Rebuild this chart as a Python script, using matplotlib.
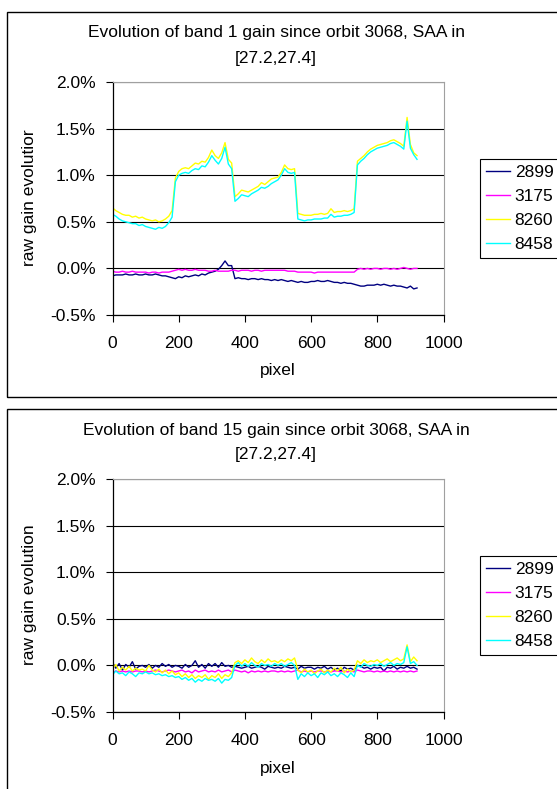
import matplotlib

matplotlib.use("Agg")
import matplotlib.pyplot as plt
import numpy as np
from matplotlib.patches import Rectangle
from matplotlib.ticker import MultipleLocator, PercentFormatter

plt.rcParams["font.family"] = ["Liberation Sans", "DejaVu Sans"]
plt.rcParams["axes.unicode_minus"] = False

W, H = 557, 789

# detector pixel, sampled every 10 pixels
pixels = np.arange(0, 930, 10)
orbits = ["2899", "3175", "8260", "8458"]
colors = ["#000080", "#ff00ff", "#ffff00", "#00ffff"]

# band 1, raw gain evolution [%]
band1_2899 = [
    -0.08, -0.07, -0.07, -0.07, -0.06, -0.07, -0.07, -0.06, -0.07, -0.07,
    -0.06, -0.07, -0.07, -0.06, -0.07, -0.08, -0.08, -0.09, -0.10, -0.11,
    -0.09, -0.10, -0.08, -0.09, -0.08, -0.07, -0.08, -0.06, -0.07, -0.05,
    -0.04, -0.03, -0.01, 0.03, 0.08, 0.03, 0.03, -0.11, -0.10, -0.11,
    -0.11, -0.12, -0.11, -0.11, -0.12, -0.11, -0.12, -0.12, -0.13, -0.12,
    -0.13, -0.12, -0.13, -0.14, -0.13, -0.14, -0.15, -0.14, -0.15, -0.15,
    -0.14, -0.14, -0.13, -0.14, -0.14, -0.13, -0.14, -0.15, -0.15, -0.16,
    -0.15, -0.16, -0.16, -0.17, -0.18, -0.19, -0.19, -0.18, -0.18, -0.18,
    -0.17, -0.18, -0.17, -0.18, -0.19, -0.18, -0.19, -0.19, -0.20, -0.21,
    -0.19, -0.22, -0.21,
]
band1_3175 = [
    -0.03, -0.04, -0.04, -0.03, -0.04, -0.04, -0.03, -0.04, -0.04, -0.04,
    -0.04, -0.05, -0.04, -0.04, -0.05, -0.04, -0.04, -0.04, -0.03, -0.02,
    -0.01, -0.02, -0.01, -0.02, -0.02, -0.01, -0.02, -0.02, -0.02, -0.03,
    -0.03, -0.02, -0.03, -0.03, -0.03, -0.03, -0.02, -0.02, -0.03, -0.02,
    -0.02, -0.02, -0.03, -0.02, -0.02, -0.03, -0.02, -0.02, -0.02, -0.02,
    -0.02, -0.02, -0.02, -0.03, -0.03, -0.03, -0.04, -0.04, -0.04, -0.04,
    -0.04, -0.05, -0.04, -0.04, -0.04, -0.04, -0.04, -0.04, -0.04, -0.04,
    -0.04, -0.04, -0.04, -0.04, -0.01, 0.00, -0.01, 0.00, -0.01, 0.00,
    0.00, -0.01, 0.00, 0.00, -0.01, 0.00, -0.01, 0.00, 0.01, 0.00,
    -0.01, 0.00, 0.00,
]
band1_8260 = [
    0.65, 0.62, 0.60, 0.58, 0.57, 0.57, 0.55, 0.56, 0.54, 0.55,
    0.53, 0.52, 0.51, 0.52, 0.50, 0.51, 0.53, 0.56, 0.62, 0.97,
    1.04, 1.07, 1.08, 1.07, 1.10, 1.13, 1.12, 1.15, 1.14, 1.19,
    1.27, 1.21, 1.18, 1.24, 1.35, 1.17, 1.13, 0.77, 0.80, 0.84,
    0.83, 0.82, 0.84, 0.86, 0.88, 0.92, 0.90, 0.93, 0.96, 0.97,
    0.98, 1.03, 1.11, 1.07, 1.06, 1.07, 0.59, 0.58, 0.57, 0.57,
    0.57, 0.58, 0.58, 0.59, 0.58, 0.59, 0.64, 0.60, 0.61, 0.61,
    0.62, 0.61, 0.62, 0.64, 1.15, 1.18, 1.21, 1.25, 1.28, 1.30,
    1.32, 1.33, 1.34, 1.35, 1.37, 1.38, 1.36, 1.34, 1.31, 1.62,
    1.33, 1.24, 1.21,
]
band1_8458 = [
    0.58, 0.56, 0.53, 0.51, 0.50, 0.49, 0.48, 0.48, 0.46, 0.47,
    0.45, 0.44, 0.43, 0.42, 0.44, 0.43, 0.45, 0.49, 0.55, 0.93,
    1.00, 1.02, 1.03, 1.02, 1.05, 1.07, 1.06, 1.10, 1.09, 1.14,
    1.21, 1.16, 1.12, 1.18, 1.30, 1.12, 1.07, 0.72, 0.75, 0.79,
    0.78, 0.77, 0.80, 0.82, 0.84, 0.87, 0.86, 0.88, 0.91, 0.93,
    0.95, 1.00, 1.07, 1.03, 1.02, 1.03, 0.53, 0.52, 0.51, 0.52,
    0.52, 0.53, 0.53, 0.53, 0.54, 0.54, 0.58, 0.55, 0.56, 0.56,
    0.57, 0.57, 0.58, 0.60, 1.11, 1.15, 1.18, 1.22, 1.25, 1.27,
    1.29, 1.30, 1.31, 1.32, 1.34, 1.35, 1.33, 1.31, 1.28, 1.58,
    1.29, 1.22, 1.17,
]

# band 15, raw gain evolution [%]
band15_2899 = [
    0.03, -0.03, 0.02, -0.05, 0.01, -0.02, 0.04, -0.04, -0.01, 0.00,
    -0.02, 0.01, -0.03, 0.00, -0.02, 0.02, -0.01, 0.01, -0.02, 0.00,
    -0.01, -0.03, 0.01, -0.02, 0.00, 0.05, -0.02, 0.01, -0.03, 0.02,
    -0.01, 0.02, -0.02, 0.03, -0.01, 0.00, -0.02, -0.01, -0.02, -0.03,
    -0.02, -0.01, -0.03, -0.02, -0.01, -0.02, -0.04, -0.01, -0.02, -0.03,
    -0.02, -0.03, -0.01, -0.02, -0.03, -0.02, -0.04, -0.01, -0.03, -0.02,
    -0.02, -0.04, -0.02, -0.03, -0.01, -0.04, -0.02, -0.05, -0.03, -0.06,
    -0.02, -0.04, -0.03, -0.05, 0.00, -0.01, -0.03, -0.02, -0.04, -0.02,
    -0.03, -0.02, -0.06, -0.02, -0.03, -0.01, -0.04, -0.02, -0.03, -0.01,
    -0.03, -0.02, -0.04,
]
band15_3175 = [
    -0.08, -0.06, -0.07, -0.06, -0.07, -0.06, -0.07, -0.06, -0.06, -0.07,
    -0.06, -0.07, -0.06, -0.05, -0.06, -0.07, -0.06, -0.05, -0.06, -0.07,
    -0.06, -0.05, -0.07, -0.06, -0.08, -0.05, -0.07, -0.06, -0.05, -0.07,
    -0.06, -0.07, -0.05, -0.07, -0.06, -0.05, -0.07, -0.05, -0.06, -0.07,
    -0.06, -0.08, -0.06, -0.07, -0.06, -0.07, -0.06, -0.07, -0.06, -0.06,
    -0.07, -0.06, -0.07, -0.06, -0.07, -0.06, -0.05, -0.07, -0.06, -0.07,
    -0.06, -0.07, -0.06, -0.06, -0.07, -0.06, -0.07, -0.06, -0.06, -0.07,
    -0.06, -0.07, -0.06, -0.07, -0.05, -0.06, -0.07, -0.06, -0.06, -0.07,
    -0.06, -0.07, -0.06, -0.07, -0.06, -0.07, -0.06, -0.07, -0.06, -0.07,
    -0.06, -0.07, -0.06,
]
band15_8260 = [
    -0.04, 0.01, -0.06, -0.02, -0.05, -0.01, -0.06, -0.03, -0.05, -0.04,
    -0.06, 0.00, -0.05, -0.07, -0.04, -0.08, -0.05, -0.09, -0.06, -0.10,
    -0.08, -0.12, -0.09, -0.13, -0.10, -0.14, -0.11, -0.13, -0.10, -0.15,
    -0.11, -0.13, -0.09, -0.14, -0.10, -0.12, -0.08, 0.03, 0.05, 0.02,
    0.06, 0.03, 0.08, 0.04, 0.02, 0.06, 0.03, 0.07, 0.04, 0.05,
    0.03, 0.06, 0.04, 0.07, 0.05, 0.08, -0.05, -0.08, -0.04, -0.07,
    -0.05, -0.09, -0.06, -0.04, -0.08, -0.05, -0.07, -0.03, -0.06, -0.02,
    -0.08, -0.04, -0.07, -0.05, 0.05, 0.02, 0.06, 0.03, 0.05, 0.04,
    0.06, 0.03, 0.05, 0.07, 0.04, 0.06, 0.08, 0.05, 0.07, 0.22,
    0.04, 0.09, 0.05,
]
band15_8458 = [
    -0.10, -0.06, -0.09, -0.08, -0.11, -0.07, -0.09, -0.12, -0.08, -0.09,
    -0.07, -0.09, -0.08, -0.10, -0.09, -0.11, -0.10, -0.12, -0.11, -0.13,
    -0.12, -0.15, -0.13, -0.16, -0.14, -0.18, -0.15, -0.17, -0.14, -0.16,
    -0.15, -0.17, -0.14, -0.19, -0.15, -0.16, -0.13, 0.00, 0.03, -0.01,
    0.02, -0.01, 0.03, 0.00, -0.02, 0.02, 0.00, 0.01, -0.01, 0.02,
    0.00, 0.02, -0.01, 0.01, 0.03, 0.00, -0.15, -0.09, -0.12, -0.08,
    -0.11, -0.09, -0.13, -0.08, -0.10, -0.07, -0.11, -0.09, -0.12, -0.08,
    -0.10, -0.13, -0.08, -0.12, 0.00, -0.02, 0.02, 0.00, -0.01, 0.01,
    0.00, 0.02, -0.01, 0.01, 0.03, 0.00, 0.02, 0.01, 0.03, 0.20,
    0.02, 0.04, 0.00,
]


def fx(px):
    return px / W


def fy(py):
    return 1 - py / H


def draw_panel(fig, off, band, series, ylabel):
    # frame around the whole chart
    fig.patches.append(
        Rectangle(
            (fx(7), fy(397 + off)),
            1.0,
            (397 - 12) / H,
            transform=fig.transFigure,
            fill=False,
            edgecolor="black",
            linewidth=1.0,
        )
    )

    ax = fig.add_axes([fx(112.5), fy(315 + off), (443.5 - 112.5) / W, 233 / H])
    for values, color, label in zip(series, colors, orbits):
        ax.plot(pixels, values, color=color, linewidth=1.0, label=label)

    ax.set_xlim(0, 1000)
    ax.set_ylim(-0.5, 2.0)
    ax.xaxis.set_major_locator(MultipleLocator(200))
    ax.yaxis.set_major_locator(MultipleLocator(0.5))
    ax.yaxis.set_major_formatter(PercentFormatter(decimals=1))
    ax.grid(axis="y", color="black", linewidth=0.8)
    ax.set_axisbelow(True)

    for side in ["top", "right"]:
        ax.spines[side].set_color("#a0a0a0")
    for side in ["left", "bottom"]:
        ax.spines[side].set_color("black")
        ax.spines[side].set_linewidth(0.9)

    ax.tick_params(axis="both", direction="out", length=5, width=0.8, labelsize=12.5)
    ax.tick_params(axis="x", pad=10)
    ax.tick_params(axis="y", pad=7)

    fig.text(fx(276), fy(33 + off), f"Evolution of band {band} gain since orbit 3068, SAA in",
             ha="center", va="center", fontsize=12.5)
    fig.text(fx(276), fy(58 + off), "[27.2,27.4]", ha="center", va="center", fontsize=12.5)
    fig.text(fx(278), fy(371 + off), "pixel", ha="center", va="center", fontsize=12.5)
    fig.text(fx(30), fy(198 + off), ylabel, rotation=90, ha="center", va="center",
             fontsize=12.5)

    leg = ax.legend(
        loc="upper left",
        bbox_to_anchor=(fx(480), fy(159 + off)),
        bbox_transform=fig.transFigure,
        fancybox=False,
        framealpha=1,
        edgecolor="black",
        borderaxespad=0,
        borderpad=0.35,
        handlelength=1.4,
        handletextpad=0.25,
        labelspacing=0.5,
        fontsize=12.5,
    )
    leg.get_frame().set_linewidth(0.8)
    return ax


fig = plt.figure(figsize=(W / 100, H / 100), dpi=100)
draw_panel(fig, 0, 1, [band1_2899, band1_3175, band1_8260, band1_8458], "raw gain evolutior")
draw_panel(fig, 397, 15, [band15_2899, band15_3175, band15_8260, band15_8458],
           "raw gain evolution")
fig.savefig("out.png", dpi=100)
